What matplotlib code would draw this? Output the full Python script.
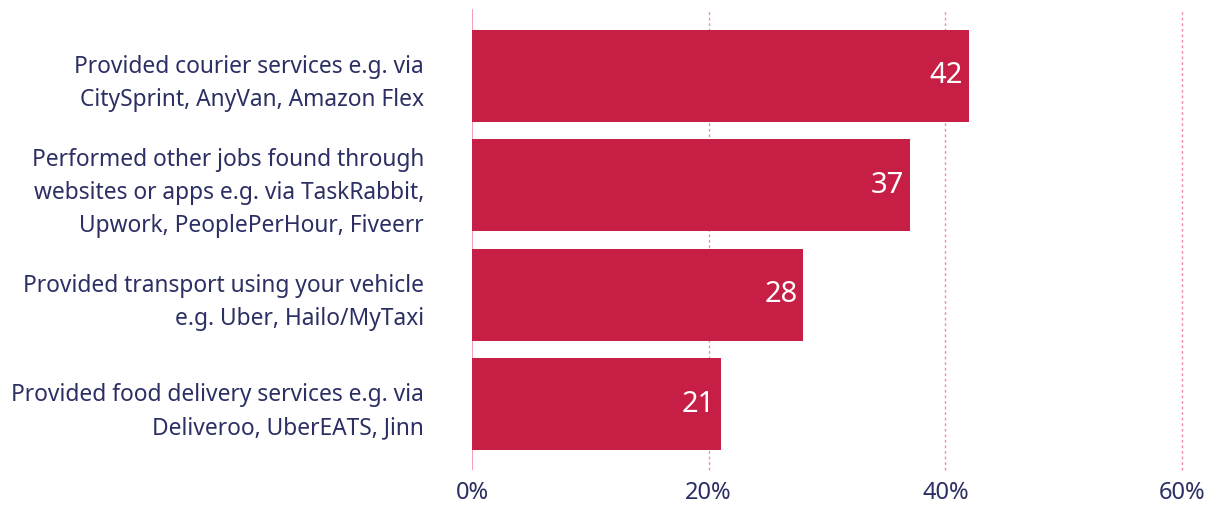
import matplotlib
matplotlib.use("Agg")
import matplotlib.pyplot as plt

categories = [
    "Provided courier services e.g. via\nCitySprint, AnyVan, Amazon Flex",
    "Performed other jobs found through\nwebsites or apps e.g. via TaskRabbit,\nUpwork, PeoplePerHour, Fiveerr",
    "Provided transport using your vehicle\ne.g. Uber, Hailo/MyTaxi",
    "Provided food delivery services e.g. via\nDeliveroo, UberEATS, Jinn",
]
values = [42, 37, 28, 21]
xticks = [0, 20, 40, 60]
xtick_labels = ["0%", "20%", "40%", "60%"]

plt.rcParams['font.family'] = ['Noto Sans', 'DejaVu Sans']
text_color = "#2b2f63"
bar_color = "#c61e44"
grid_color = "#f08ca3"

fig = plt.figure(figsize=(12.16, 5.08), dpi=100)
ax = fig.add_axes([472/1216, 1-470/508, (1182-472)/1216, (470-9)/508])

ypos = list(range(len(categories)))
ax.barh(ypos, values, height=0.84, color=bar_color, zorder=3)
for y, v in zip(ypos, values):
    ax.text(v - 0.5, y, f"{v}", color="white", fontsize=21, ha="right", va="center", zorder=4)

ax.set_xlim(0, 60)
ax.set_ylim(3.6, -0.61)
ax.set_yticks(ypos)
ax.set_yticklabels(categories, fontsize=16.4, color=text_color, linespacing=1.5)
ax.set_xticks(xticks)
ax.set_xticklabels(xtick_labels, fontsize=17, color=text_color)
ax.tick_params(axis='y', length=0, pad=34.5)
ax.tick_params(axis='x', length=0, pad=8)
for lbl in ax.get_yticklabels():
    lbl.set_ha('right')

for s in ax.spines.values():
    s.set_visible(False)
ax.axvline(0, color=grid_color, lw=1.2, zorder=2)
for x in xticks[1:]:
    ax.axvline(x, color=grid_color, lw=1.0, ls=(0, (2, 2)), zorder=1, clip_on=False)

fig.savefig("out.png", dpi=100)
